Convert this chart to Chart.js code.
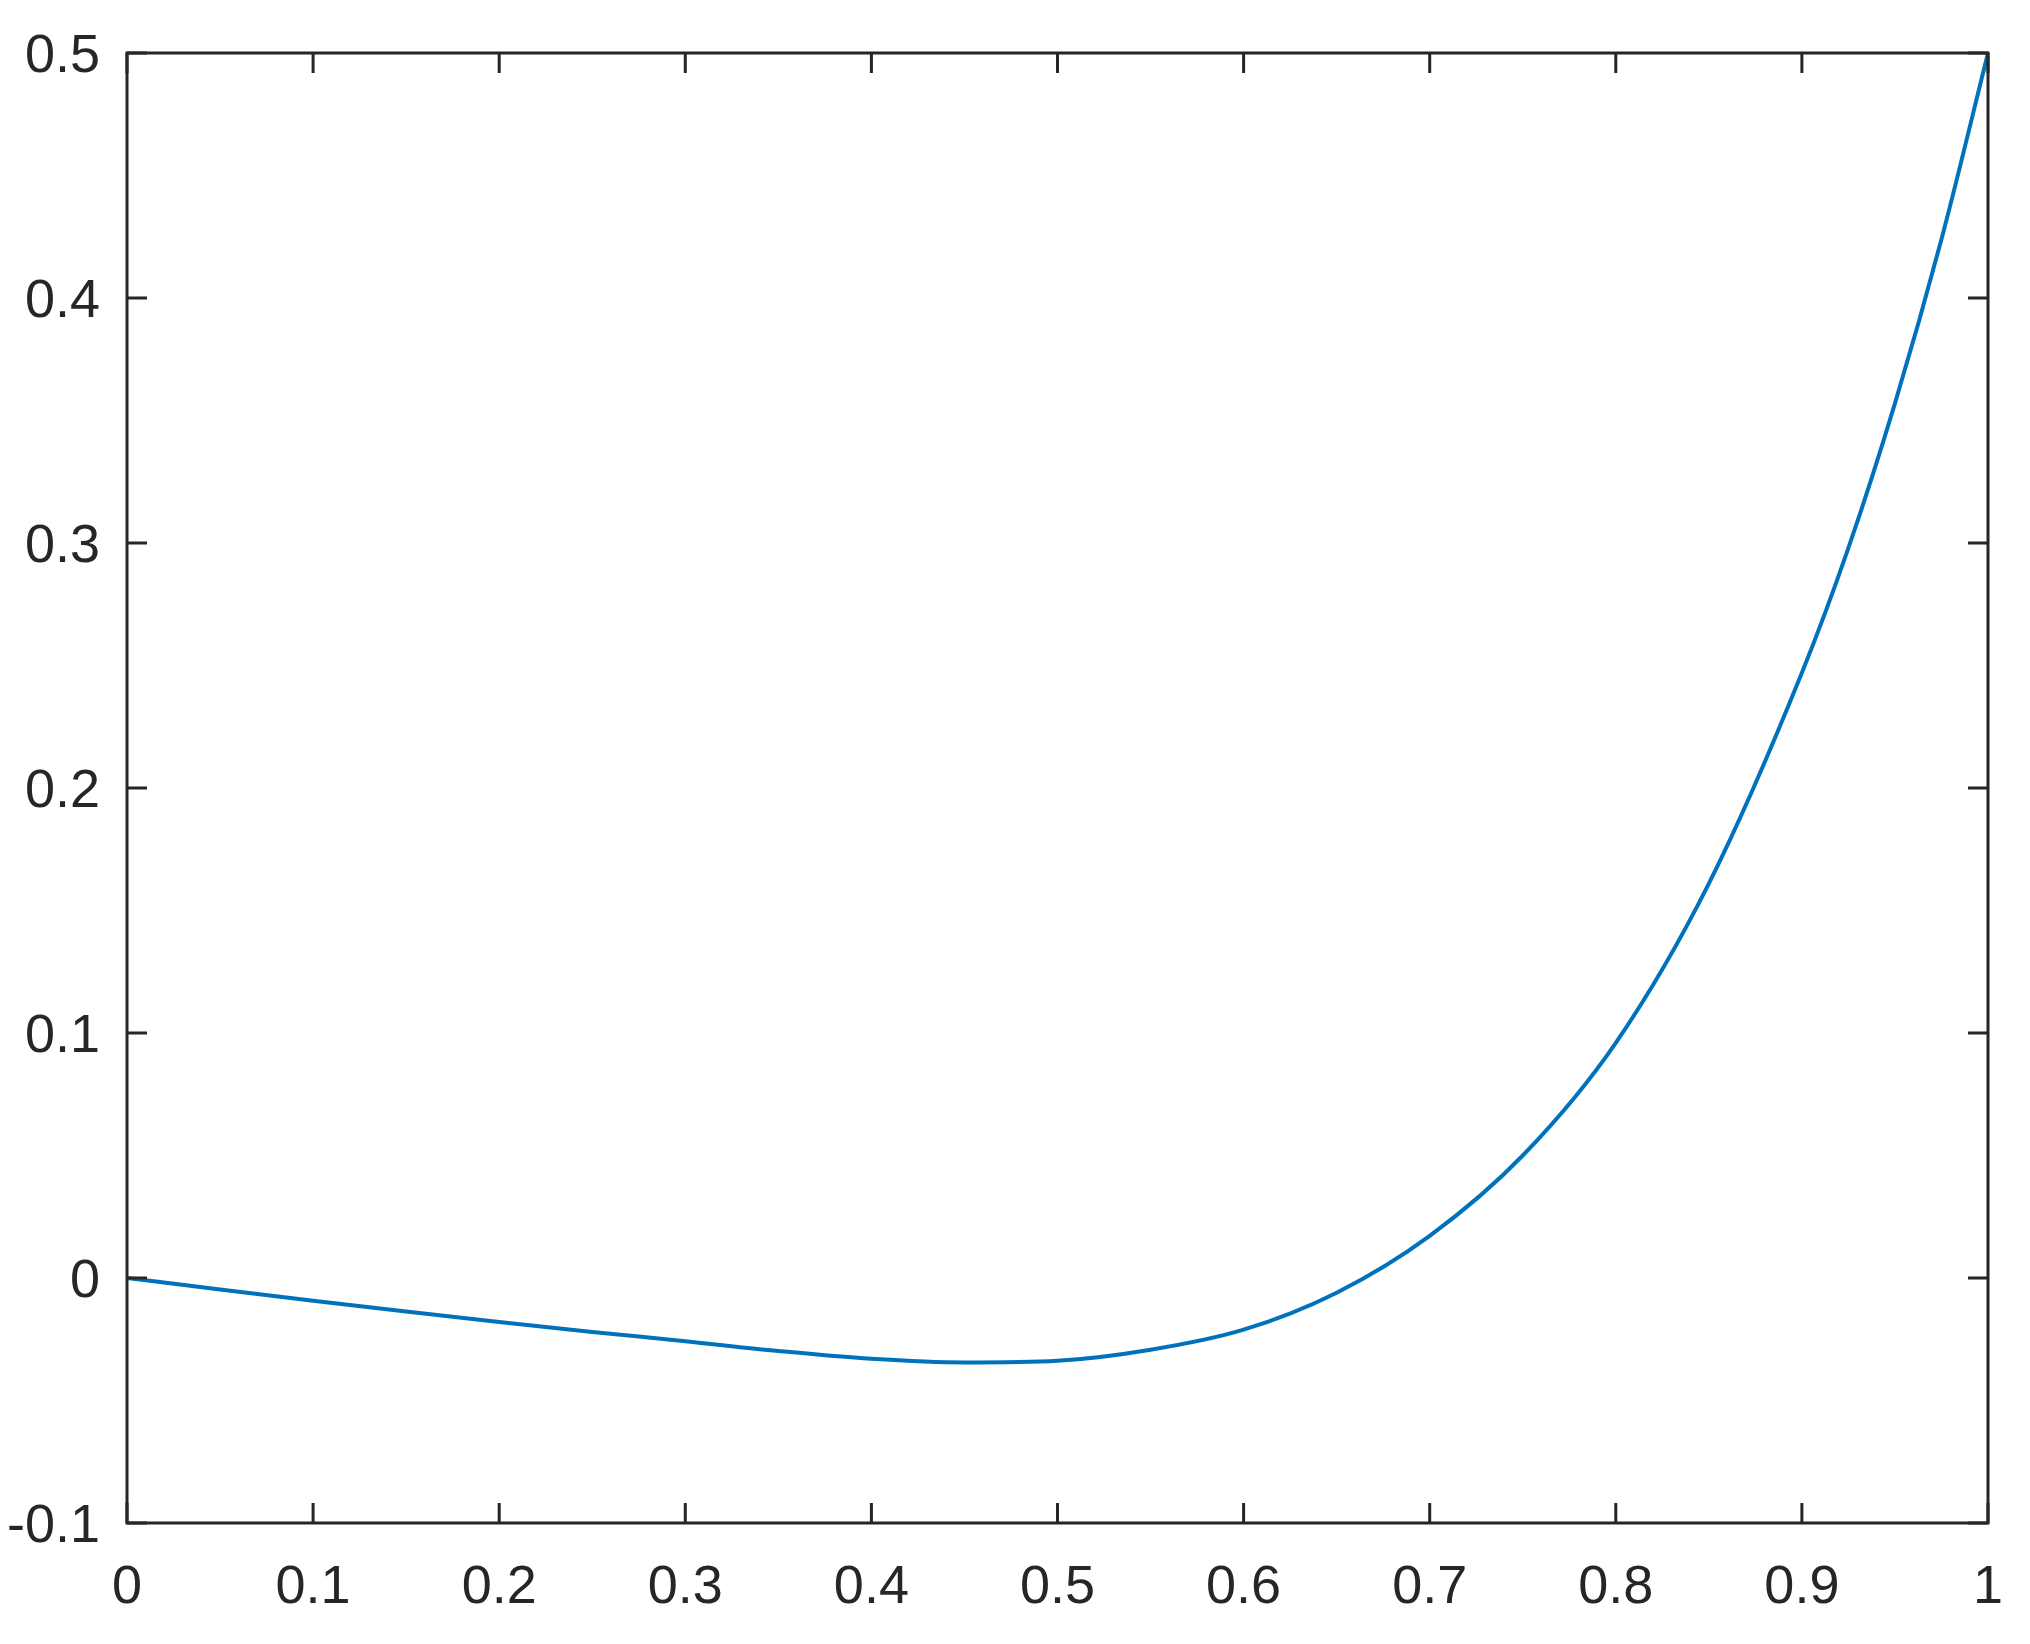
<!DOCTYPE html>
<html>
<head>
<meta charset="utf-8">
<script src="https://cdn.jsdelivr.net/npm/chart.js@4"></script>
<style>
  html, body { margin: 0; padding: 0; background: #fff; overflow: hidden; }
  #wrap { width: 2030px; height: 1644px; }
</style>
</head>
<body>
<div id="wrap"><canvas id="curve"></canvas></div>
<script>
// values
const xValues = [0, 0.05, 0.1, 0.15, 0.2, 0.25, 0.3, 0.35, 0.4, 0.45, 0.5, 0.55, 0.6,
  0.65, 0.7, 0.75, 0.8, 0.85, 0.9, 0.925, 0.95, 0.975, 1];
const yValues = [0, -0.0047, -0.0093, -0.0137, -0.018, -0.022, -0.0258, -0.0298, -0.033,
  -0.0345, -0.0338, -0.0293, -0.0211, -0.006, 0.0172, 0.05, 0.096, 0.161, 0.247, 0.298,
  0.357, 0.424, 0.5];
const xTicks = [0, 0.1, 0.2, 0.3, 0.4, 0.5, 0.6, 0.7, 0.8, 0.9, 1];
const yTicks = [-0.1, 0, 0.1, 0.2, 0.3, 0.4, 0.5];
const xTickLabels = ["0", "0.1", "0.2", "0.3", "0.4", "0.5", "0.6", "0.7", "0.8", "0.9", "1"];
const yTickLabels = ["-0.1", "0", "0.1", "0.2", "0.3", "0.4", "0.5"];

const axisColor = "#262626";

// box around the plot with inward ticks on all four sides
const boxPlugin = {
  id: "box",
  afterDraw(chart) {
    const { ctx, chartArea: a, scales } = chart;
    const len = 20;
    ctx.save();
    ctx.strokeStyle = axisColor;
    ctx.lineWidth = 3;
    ctx.lineCap = "square";
    ctx.strokeRect(a.left, a.top, a.right - a.left, a.bottom - a.top);
    ctx.lineCap = "butt";
    ctx.beginPath();
    xTicks.forEach((v) => {
      const px = scales.x.getPixelForValue(v);
      ctx.moveTo(px, a.bottom); ctx.lineTo(px, a.bottom - len);
      ctx.moveTo(px, a.top); ctx.lineTo(px, a.top + len);
    });
    yTicks.forEach((v) => {
      const py = scales.y.getPixelForValue(v);
      ctx.moveTo(a.left, py); ctx.lineTo(a.left + len, py);
      ctx.moveTo(a.right, py); ctx.lineTo(a.right - len, py);
    });
    ctx.stroke();
    ctx.restore();
  },
};

// keep the plot box fixed: no extra room for overhanging labels
function noPad(s) {
  s.paddingLeft = 0;
  s.paddingRight = 0;
  s.paddingTop = 0;
  s.paddingBottom = 0;
}

const ctx = document.getElementById("curve").getContext("2d");

new Chart(ctx, {
  type: "line",
  data: {
    datasets: [
      {
        data: xValues.map((x, i) => ({ x: x, y: yValues[i] })),
        borderColor: "#0072BD",
        borderWidth: 4,
        pointRadius: 0,
        fill: false,
        cubicInterpolationMode: "monotone",
      },
    ],
  },
  options: {
    responsive: true,
    maintainAspectRatio: false,
    animation: false,
    layout: { padding: { top: 53, right: 42, left: 0, bottom: 0 } },
    plugins: { legend: { display: false }, tooltip: { enabled: false } },
    scales: {
      x: {
        type: "linear",
        min: 0,
        max: 1,
        afterBuildTicks: (s) => { s.ticks = xTicks.map((v) => ({ value: v })); },
        afterFit: (s) => { s.height = 121; noPad(s); },
        grid: { display: false, drawTicks: false },
        border: { display: false },
        ticks: {
          padding: 33,
          color: axisColor,
          maxRotation: 0,
          autoSkip: false,
          font: { family: "Liberation Sans, Arial, sans-serif", size: 54 },
          callback: (v, i) => xTickLabels[i],
        },
      },
      y: {
        type: "linear",
        min: -0.1,
        max: 0.5,
        afterBuildTicks: (s) => { s.ticks = yTicks.map((v) => ({ value: v })); },
        afterFit: (s) => { s.width = 127; noPad(s); },
        grid: { display: false, drawTicks: false },
        border: { display: false },
        ticks: {
          padding: 27,
          labelOffset: 4,
          color: axisColor,
          autoSkip: false,
          font: { family: "Liberation Sans, Arial, sans-serif", size: 54 },
          callback: (v, i) => yTickLabels[i],
        },
      },
    },
  },
  plugins: [boxPlugin],
});
</script>
</body>
</html>
